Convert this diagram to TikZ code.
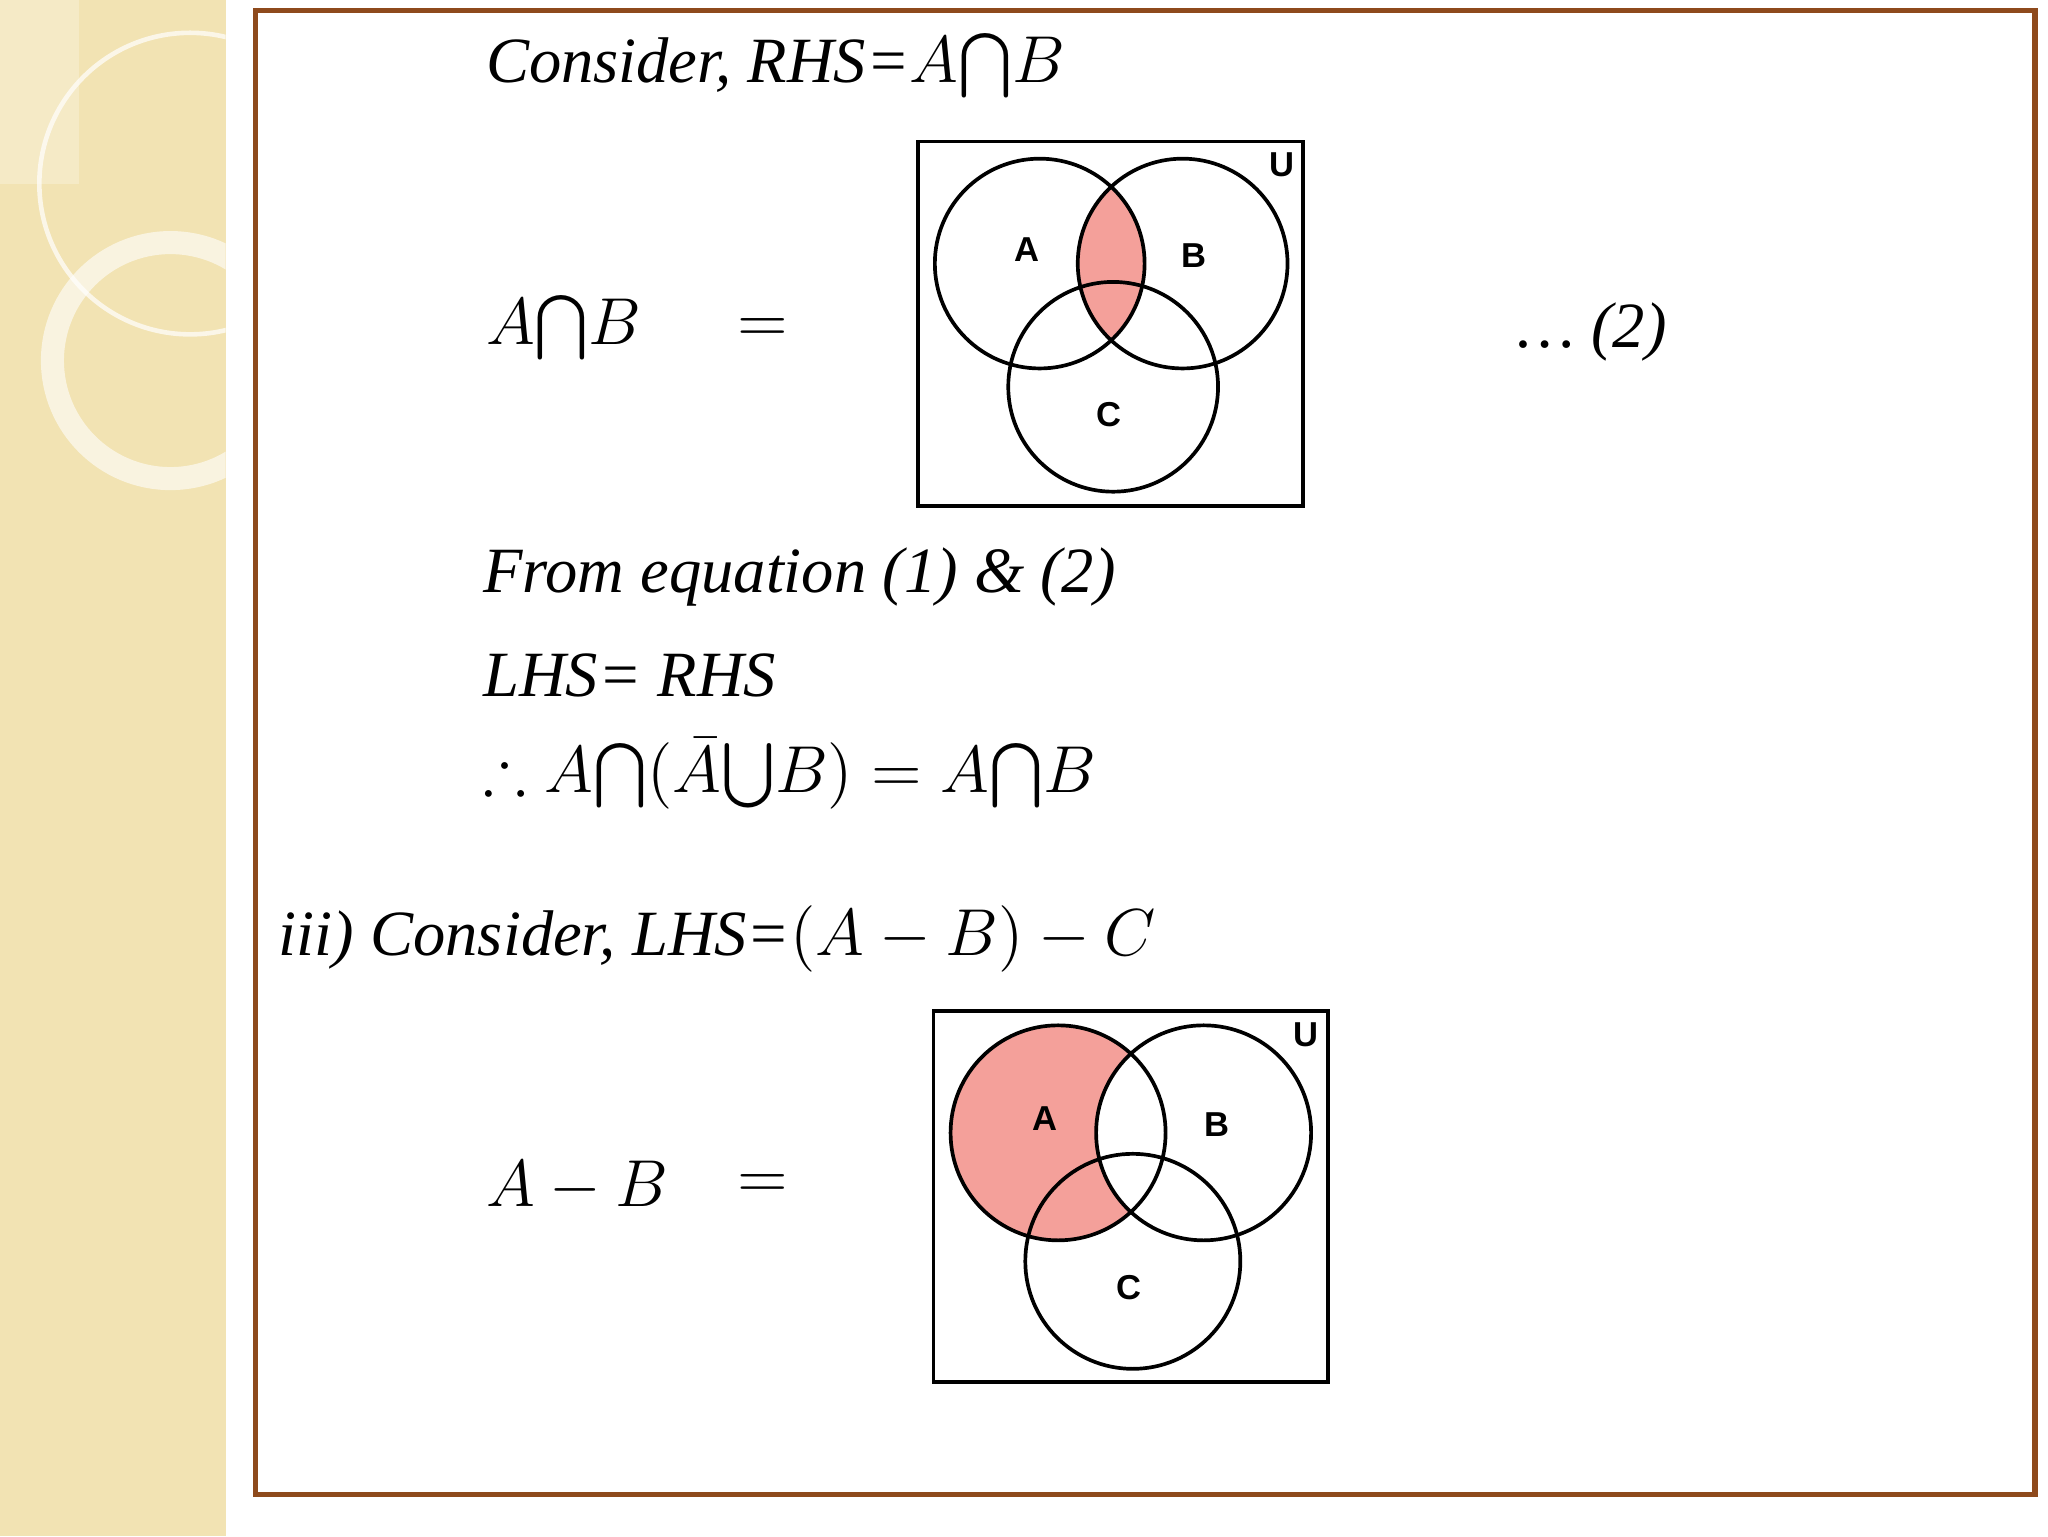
\documentclass[tikz,border=0pt]{standalone}
\usepackage{fontspec}
\usepackage{amssymb}
\setmainfont{Liberation Serif}
\setsansfont{Liberation Sans}
\begin{document}
\begin{tikzpicture}[x=0.01cm,y=-0.01cm,
  txt/.style={anchor=west,font=\fontsize{14}{16}\selectfont\itshape,inner sep=0},
  lbl/.style={font=\sffamily\bfseries\fontsize{7.5}{8}\selectfont,inner sep=0},
  vc/.style={draw=black,line width=0.8pt}]
\definecolor{pinkc}{HTML}{F4A09A}
\definecolor{beige}{HTML}{F2E3B3}
\definecolor{brownc}{HTML}{8E4A1C}
\useasboundingbox (0,0) rectangle (1562,1171.5);
\fill[white] (0,0) rectangle (1562,1171.5);
\fill[beige] (0,0) rectangle (172,1171.5);
\begin{scope}
\clip (0,0) rectangle (172,1171.5);
\draw[white,opacity=0.7,line width=1pt] (145,140) circle (115);
\draw[white,opacity=0.6,line width=5pt] (130,275) circle (90);
\fill[white,opacity=0.25] (0,0) rectangle (60,140);
\end{scope}
\draw[brownc,line width=1.2pt] (195,8) rectangle (1552,1140);

\node[txt] (t1) at (370,50) {Consider, RHS=$A{\bigcap}B$};
\node[txt] (t2) at (370,250) {$A{\bigcap}B$};
\node[txt] (t3) at (562,252) {$=$};
\node[txt] (t4) at (1157,253) {\ldots{} (2)};
\node[txt] (t5) at (368,440) {From equation (1) \& (2)};
\node[txt] (t6) at (368,515) {LHS= RHS};
\node[txt] (t7) at (368,590) {$\therefore A{\bigcap}(\bar{A}{\bigcup}B) = A{\bigcap}B$};
\node[txt] (t8) at (212,716) {iii) Consider, LHS=$(A-B)-C$};
\node[txt] (t9) at (370,905) {$A-B$};
\node[txt] (t10) at (562,905) {$=$};

% Venn 1
\begin{scope}
\clip (793,201) circle (80);
\fill[pinkc] (902,201) circle (80);
\end{scope}
\draw[vc] (700,108) rectangle (994,386);
\draw[vc] (793,201) circle (80);
\draw[vc] (902,201) circle (80);
\draw[vc] (849,295) circle (80);
\node[lbl] (a1) at (783,190) {A};
\node[lbl] (b1) at (911,195) {B};
\node[lbl] (c1) at (846,316) {C};
\node[lbl] (u1) at (978,126) {U};

% Venn 2
\begin{scope}
\clip (807,864) circle (82);
\fill[pinkc,even odd rule] (700,760) rectangle (1020,1060) (918,864) circle (82);
\end{scope}
\draw[vc] (712,771) rectangle (1013,1054);
\draw[vc] (807,864) circle (82);
\draw[vc] (918,864) circle (82);
\draw[vc] (864,962) circle (82);
\node[lbl] (a2) at (797,853) {A};
\node[lbl] (b2) at (928,858) {B};
\node[lbl] (c2) at (861,982) {C};
\node[lbl] (u2) at (996,789) {U};
\end{tikzpicture}
\end{document}
